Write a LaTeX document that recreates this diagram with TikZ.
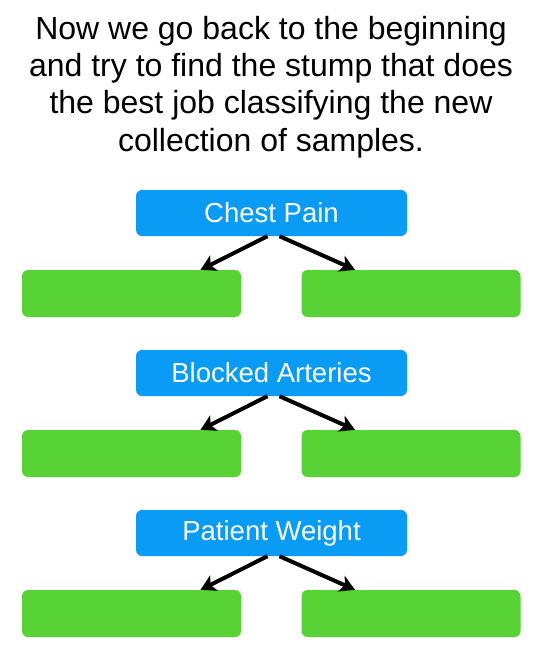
\documentclass[tikz,border=0pt]{standalone}
\usepackage{fontspec}
\setmainfont{Liberation Sans}
\usetikzlibrary{arrows.meta}
\definecolor{bluebox}{RGB}{10,155,245}
\definecolor{greenbox}{RGB}{87,211,53}
\tikzset{
  featbox/.style={fill=bluebox, rounded corners=6pt, minimum width=271pt, minimum height=46pt, text=white, font=\fontsize{27.5}{30}\selectfont, inner sep=0pt},
  leafbox/.style={fill=greenbox, rounded corners=6pt, minimum width=219pt, minimum height=47pt, inner sep=0pt},
  branch/.style={-{Stealth[length=15pt,width=17pt,inset=4pt]}, line width=4pt},
}
\begin{document}
\begin{tikzpicture}[x=1pt,y=-1pt]
\useasboundingbox (0,0) rectangle (542,656);
\node[align=center, font=\fontsize{32}{37.2}\selectfont] (title) at (271,87) {Now we go back to the beginning\\and try to find the stump that does\\the best job classifying the new\\collection of samples.};
\foreach \n/\t/\y in {a/Chest Pain/0, b/Blocked Arteries/160, c/Patient Weight/320}{
  \node[featbox] (\n) at (271.5,213+\y) {\t};
  \node[leafbox] (\n l) at (131.5,293.5+\y) {};
  \node[leafbox] (\n r) at (411,293.5+\y) {};
  \draw[branch] ([xshift=-4pt]\n.south) -- ([xshift=69pt]\n l.north);
  \draw[branch] ([xshift=8pt]\n.south) -- ([xshift=-56pt]\n r.north);
}
\end{tikzpicture}
\end{document}
